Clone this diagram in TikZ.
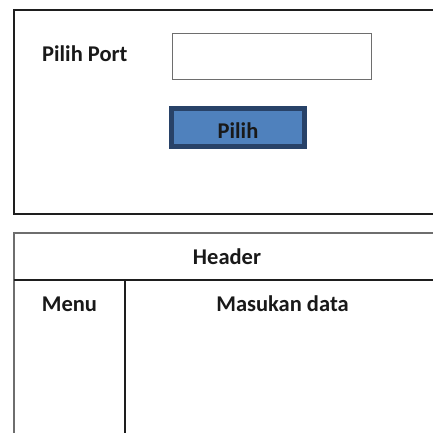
\documentclass[tikz,border=0pt]{standalone}
\usepackage{fontspec}
\setmainfont{Carlito}
\usepackage{xcolor}
\definecolor{btnblue}{RGB}{79,129,189}
\definecolor{btnedge}{RGB}{40,66,104}
\definecolor{dgray}{RGB}{30,30,30}
\definecolor{mgray}{RGB}{110,110,110}
\usetikzlibrary{positioning}
\tikzstyle{Label} = [
font=\fontsize{22.5}{27}\selectfont\bfseries,
text=black!90,
inner sep=0pt]
\tikzstyle{Frame} = [draw=dgray, line width=2pt]
\tikzstyle{FrameGray} = [draw=mgray, line width=2pt]
\tikzstyle{Field} = [
draw=mgray, line width=1pt,
minimum width=199pt, minimum height=46pt, inner sep=0pt]
\tikzstyle{Button} = [
draw=btnedge, fill=btnblue, line width=5pt,
minimum width=133pt, minimum height=38pt, inner sep=0pt]

\begin{document}
\begin{tikzpicture}[x=1pt, y=1pt]
    \useasboundingbox (0,0) rectangle (433,432);

    % top panel
    \draw[Frame] (14,218) rectangle (440,422);
    \node [Label, anchor=base west] (1) at (42,370) {Pilih Port};
    \node [Field] (2) at (271.5,375) {};
    \node [Button] (3) at (238,304.5) {};
    \node [Label, anchor=base] (4) at (238,294) {Pilih};

    % bottom panel
    \draw[FrameGray] (440,199) -- (14,199) -- (14,-5);
    \draw[Frame] (14,152) -- (440,152);
    \draw[Frame] (125,152) -- (125,-5);
    \node [Label, anchor=base] (5) at (227,168) {Header};
    \node [Label, anchor=base] (6) at (69.5,121) {Menu};
    \node [Label, anchor=base] (7) at (282.5,121) {Masukan data};
\end{tikzpicture}
\end{document}
